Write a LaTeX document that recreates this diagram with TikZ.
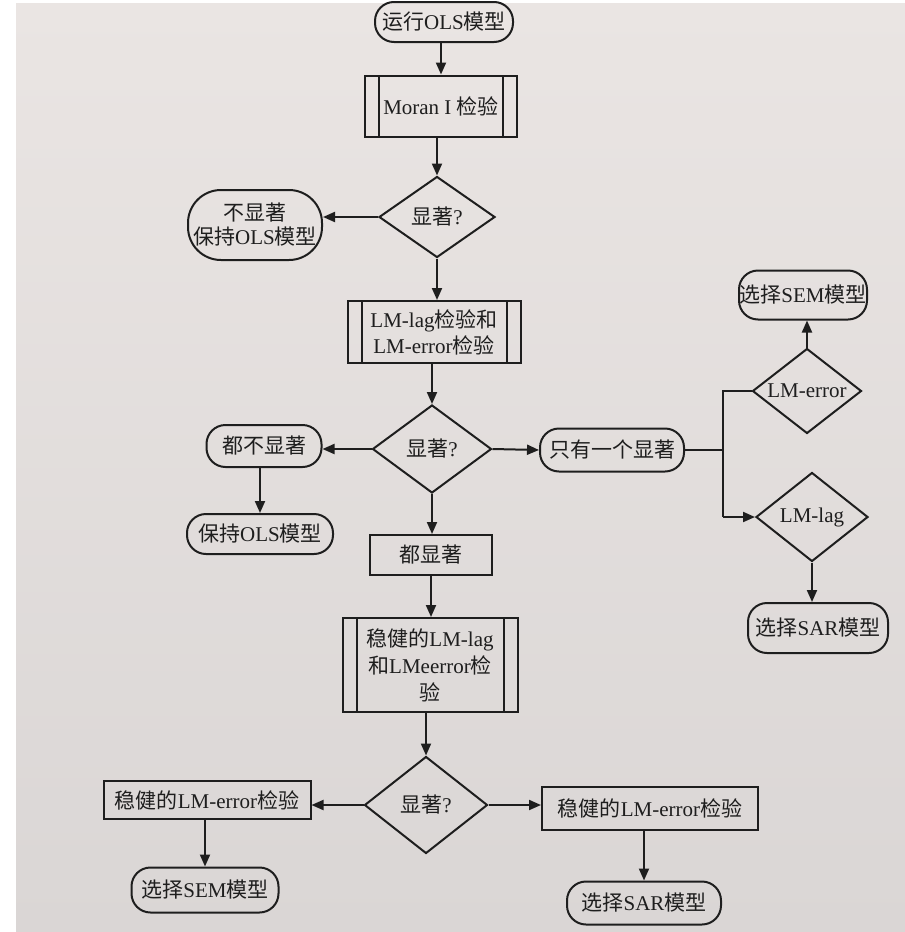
\documentclass[tikz,border=0pt]{standalone}
\usepackage{fontspec}
\setmainfont{Liberation Serif}
\newfontfamily\cjk{Noto Sans CJK SC}
\usetikzlibrary{shapes.geometric,arrows.meta}
\newcommand{\zh}[1]{{\cjk #1}}
\definecolor{ink}{HTML}{1E1E1E}
\definecolor{paperA}{HTML}{EAE5E3}
\definecolor{paperB}{HTML}{DAD6D5}
\begin{document}
\begin{tikzpicture}[x=1pt,y=-1pt,
  every node/.style={font=\fontsize{21}{26}\selectfont, text=ink, inner sep=0pt, align=center},
  box/.style={draw=ink, line width=2pt, rectangle},
  term/.style={draw=ink, line width=2pt, rectangle, rounded corners=19pt},
  dec/.style={draw=ink, line width=2pt, diamond, aspect=1.4},
  subproc/.style={box, path picture={
      \draw[ink, line width=2pt]
        ([xshift=14pt]path picture bounding box.north west) -- ([xshift=14pt]path picture bounding box.south west)
        ([xshift=-14pt]path picture bounding box.north east) -- ([xshift=-14pt]path picture bounding box.south east);}},
  arr/.style={draw=ink, line width=2pt, -{Triangle[length=12pt,width=10pt]}},
  ln/.style={draw=ink, line width=2pt}]
\useasboundingbox (0,0) rectangle (905,932);
\fill[white] (0,0) rectangle (905,932);
\shade[top color=paperA, bottom color=paperB] (16,3) rectangle (905,932);

% main column
\node[term, minimum width=138pt, minimum height=40pt] (start) at (444,22) {\zh{运行}OLS\zh{模型}};
\node[subproc, minimum width=152pt, minimum height=61pt] (moran) at (441,106) {Moran I \zh{检验}};
\node[dec, minimum width=116pt, minimum height=81pt] (d1) at (437,217) {\zh{显著}?};
\node[term, rounded corners=33pt, minimum width=134pt, minimum height=70pt, font=\fontsize{21}{24}\selectfont] (ns1) at (255,225) {\zh{不显著}\\\zh{保持}OLS\zh{模型}};
\node[subproc, minimum width=173pt, minimum height=62pt] (lm) at (434,332) {LM-lag\zh{检验和}\\LM-error\zh{检验}};
\node[dec, minimum width=119pt, minimum height=88pt] (d2) at (432,449) {\zh{显著}?};
\node[term, minimum width=115pt, minimum height=42pt] (none) at (264,446) {\zh{都不显著}};
\node[term, minimum width=146pt, minimum height=40pt] (keep) at (260,534) {\zh{保持}OLS\zh{模型}};
\node[term, minimum width=144pt, minimum height=43pt] (one) at (612,450) {\zh{只有一个显著}};
\node[box, minimum width=122pt, minimum height=40pt] (all) at (431,555) {\zh{都显著}};

% right branch
\node[dec, minimum width=109pt, minimum height=85pt] (lmerr) at (807,391) {LM-error};
\node[term, minimum width=128pt, minimum height=49pt] (sem1) at (803,295) {\zh{选择}SEM\zh{模型}};
\node[dec, minimum width=112pt, minimum height=89pt] (lmlag) at (812,517) {LM-lag};
\node[term, minimum width=140pt, minimum height=50pt] (sar1) at (818,628) {\zh{选择}SAR\zh{模型}};
\coordinate (bt) at (723,391);
\coordinate (bb) at (723,517);

% lower part
\node[subproc, minimum width=175pt, minimum height=94pt, font=\fontsize{21}{27}\selectfont] (robust) at (430,665) {\zh{稳健的}LM-lag\\\zh{和}LMeerror\zh{检}\\\zh{验}};
\node[dec, minimum width=123pt, minimum height=97pt] (d3) at (426,805) {\zh{显著}?};
\node[box, minimum width=207pt, minimum height=38pt] (rerrL) at (207,800) {\zh{稳健的}LM-error\zh{检验}};
\node[term, minimum width=147pt, minimum height=45pt] (sem2) at (205,890) {\zh{选择}SEM\zh{模型}};
\node[box, minimum width=216pt, minimum height=43pt] (rerrR) at (650,808) {\zh{稳健的}LM-error\zh{检验}};
\node[term, minimum width=154pt, minimum height=43pt] (sar2) at (644,903) {\zh{选择}SAR\zh{模型}};

% connectors
\draw[arr] (start.south -| moran.north) -- (moran.north);
\draw[arr] (moran.south -| d1.north) -- (d1.north);
\draw[arr] (d1.west) -- (d1.west -| ns1.east);
\draw[arr] (d1.south) -- (d1.south |- lm.north);
\draw[arr] (lm.south -| d2.north) -- (d2.north);
\draw[arr] (d2.west) -- (d2.west -| none.east);
\draw[arr] (d2.east) -- (one.west);
\draw[arr] (none.south -| keep.north) -- (keep.north);
\draw[arr] (d2.south) -- (d2.south |- all.north);
\draw[ln] (one.east) -- (one.east -| bt);
\draw[ln] (lmerr.west) -- (bt) -- (bb);
\draw[arr] (bb) -- (lmlag.west);
\draw[arr] (lmerr.north) -- (lmerr.north |- sem1.south);
\draw[arr] (lmlag.south) -- (lmlag.south |- sar1.north);
\draw[arr] (all.south) -- (all.south |- robust.north);
\draw[arr] (robust.south -| d3.north) -- (d3.north);
\draw[arr] (d3.west) -- (d3.west -| rerrL.east);
\draw[arr] (d3.east) -- (d3.east -| rerrR.west);
\draw[arr] (rerrL.south -| sem2.north) -- (sem2.north);
\draw[arr] (rerrR.south -| sar2.north) -- (sar2.north);
\end{tikzpicture}
\end{document}
